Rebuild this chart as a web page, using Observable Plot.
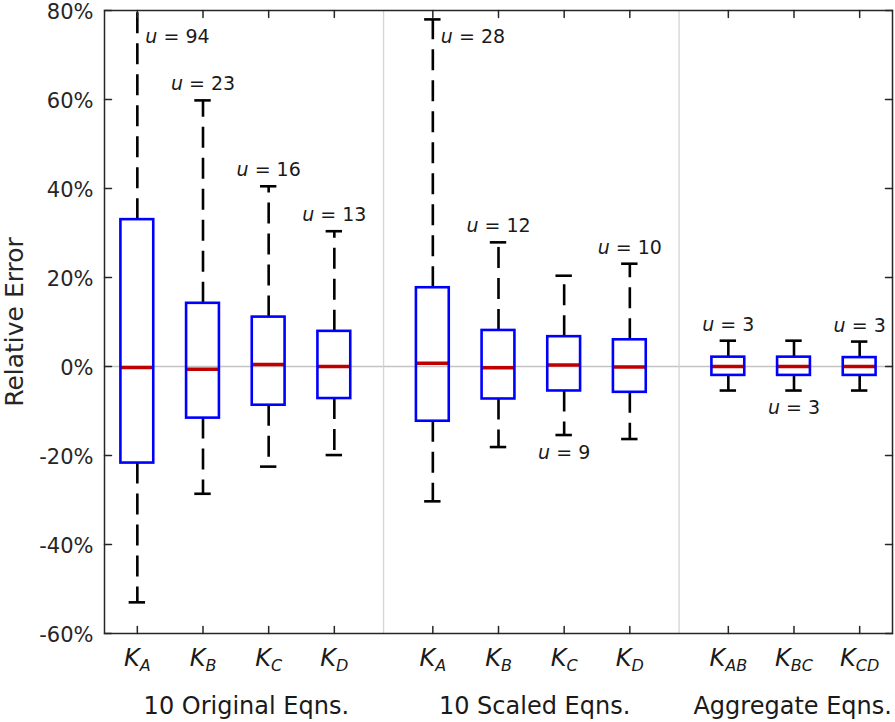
<!DOCTYPE html>
<html>
<head>
<meta charset="utf-8">
<script src="https://cdn.jsdelivr.net/npm/d3@7"></script>
<script src="https://cdn.jsdelivr.net/npm/@observablehq/plot@0.6"></script>
<style>
  html, body { margin: 0; padding: 0; background: #fff; }
  svg { display: block; }
</style>
</head>
<body>
<div id="chart"></div>
<script>
// ---- data ----
const catX = [1, 2, 3, 4, 5.5, 6.5, 7.5, 8.5, 10, 11, 12];
const catSub = ["A", "B", "C", "D", "A", "B", "C", "D", "AB", "BC", "CD"];
const q1 = [-21.7, -11.6, -8.7, -7.2, -12.3, -7.3, -5.5, -5.8, -2.0, -2.0, -2.0];
const median = [-0.2, -0.6, 0.45, 0.0, 0.75, -0.3, 0.35, -0.1, 0.0, 0.0, 0.0];
const q3 = [33.0, 14.2, 11.1, 7.9, 17.7, 8.1, 6.7, 6.0, 2.1, 2.1, 2.0];
const lower = [-53.0, -28.6, -22.5, -19.9, -30.3, -18.1, -15.4, -16.3, -5.4, -5.4, -5.4];
const upper = [95.0, 59.8, 40.5, 30.4, 78.0, 27.9, 20.4, 23.1, 5.8, 5.8, 5.6];
const uVals = [94, 23, 16, 13, 28, 12, 9, 10, 3, 3, 3];
const uPlace = ["right", "above", "above", "above", "right", "above", "below", "above", "above", "below", "above"];
const groupNames = ["10 Original Eqns.", "10 Scaled Eqns.", "Aggregate Eqns."];
const groupCenters = [2.66, 7.05, 10.98];
const groupSeparators = [4.75, 9.25];
const yTicks = [-60, -40, -20, 0, 20, 40, 60, 80];
const yLabel = "Relative Error";

// ---- build rows ----
const rows = catX.map((x, i) => ({
  x, sub: catSub[i], q1: q1[i], med: median[i], q3: q3[i],
  lo: lower[i], hi: upper[i], u: uVals[i], place: uPlace[i]
}));

const BOX_HALF = 0.25, CAP_HALF = 0.125;
const axisColor = "#262626";
const tickShape = { draw(ctx, l) { ctx.moveTo(0, 0); ctx.lineTo(0, -l); } };
const tickOpts = { length: 7, anchor: "start", shape: tickShape, stroke: axisColor, strokeWidth: 1.5 };
const whisk = { stroke: "black", strokeWidth: 2.6, strokeDasharray: "21,10", clip: true };
const cap = { stroke: "black", strokeWidth: 2.6, clip: true, x1: d => d.x - CAP_HALF, x2: d => d.x + CAP_HALF };
const uText = { text: d => "u = " + d.u, fontSize: 19, fill: "#1a1a1a", lineAnchor: "middle" };

const chart = Plot.plot({
  width: 895,
  height: 722,
  marginTop: 10,
  marginBottom: 89,
  marginLeft: 104,
  marginRight: 3,
  style: { fontFamily: "'DejaVu Sans', sans-serif", background: "#fff", color: axisColor },
  x: { domain: [0.5, 12.5], axis: null },
  y: { domain: [-60, 80], axis: null },
  marks: [
    Plot.ruleY([0], { stroke: "#c4c4c4", strokeWidth: 1.3 }),
    Plot.ruleX(groupSeparators, { stroke: "#d4d4d4", strokeWidth: 1.3 }),
    // whiskers
    Plot.ruleX(rows, { x: "x", y1: "q3", y2: "hi", ...whisk }),
    Plot.ruleX(rows, { x: "x", y1: "q1", y2: "lo", ...whisk }),
    Plot.ruleY(rows, { y: "hi", ...cap }),
    Plot.ruleY(rows, { y: "lo", ...cap }),
    // medians
    Plot.ruleY(rows, { y: "med", x1: d => d.x - BOX_HALF, x2: d => d.x + BOX_HALF, stroke: "#c00000", strokeWidth: 3.5 }),
    // boxes
    Plot.rect(rows, { x1: d => d.x - BOX_HALF, x2: d => d.x + BOX_HALF, y1: "q1", y2: "q3", fill: "none", stroke: "#0000ff", strokeWidth: 2.6 }),
    // frame and ticks
    Plot.frame({ stroke: axisColor, strokeWidth: 1.5 }),
    Plot.vector(yTicks, { y: d => d, frameAnchor: "left", rotate: 90, ...tickOpts }),
    Plot.vector(yTicks, { y: d => d, frameAnchor: "right", rotate: -90, ...tickOpts }),
    Plot.vector(catX, { x: d => d, frameAnchor: "bottom", rotate: 0, ...tickOpts }),
    Plot.vector(catX, { x: d => d, frameAnchor: "top", rotate: 180, ...tickOpts }),
    // y tick labels
    Plot.text(yTicks, { y: d => d, frameAnchor: "left", dx: -11, dy: 2, textAnchor: "end", lineAnchor: "middle", text: d => d + "%", fontSize: 21, fill: axisColor }),
    // y label
    Plot.text([yLabel], { frameAnchor: "left", dx: -90, rotate: -90, textAnchor: "middle", lineAnchor: "middle", fontSize: 25, fill: axisColor, text: d => d }),
    // category labels
    Plot.text(rows, { x: "x", frameAnchor: "bottom", dy: 25, textAnchor: "middle", lineAnchor: "middle", text: d => "K" + d.sub, fontSize: 24, fill: "#1a1a1a" }),
    // group labels
    Plot.text(groupNames, { x: (d, i) => groupCenters[i], frameAnchor: "bottom", dy: 73, textAnchor: "middle", lineAnchor: "middle", fontSize: 24, fill: "#1a1a1a", text: d => d }),
    // u labels
    Plot.text(rows.filter(d => d.place === "above"), { x: "x", y: "hi", dy: -16, ...uText }),
    Plot.text(rows.filter(d => d.place === "below"), { x: "x", y: "lo", dy: 17.5, ...uText }),
    Plot.text(rows.filter(d => d.place === "right"), { x: "x", frameAnchor: "top", dx: 8, dy: 26, textAnchor: "start", ...uText })
  ]
});

document.getElementById("chart").appendChild(chart);

// italic K with subscript, italic u
d3.select(chart).selectAll("text").each(function () {
  if (this.querySelector("tspan")) return;
  const s = this.textContent;
  const t = d3.select(this);
  if (/^K[A-D]+$/.test(s)) {
    t.text(null);
    t.append("tspan").attr("font-style", "italic").text("K");
    t.append("tspan").attr("font-style", "italic").attr("font-size", "16px").attr("dy", "5").text(s.slice(1));
  } else if (/^u = \d+$/.test(s)) {
    t.text(null);
    t.append("tspan").attr("font-style", "italic").text("u");
    t.append("tspan").text(s.slice(1));
  }
});
</script>
</body>
</html>
